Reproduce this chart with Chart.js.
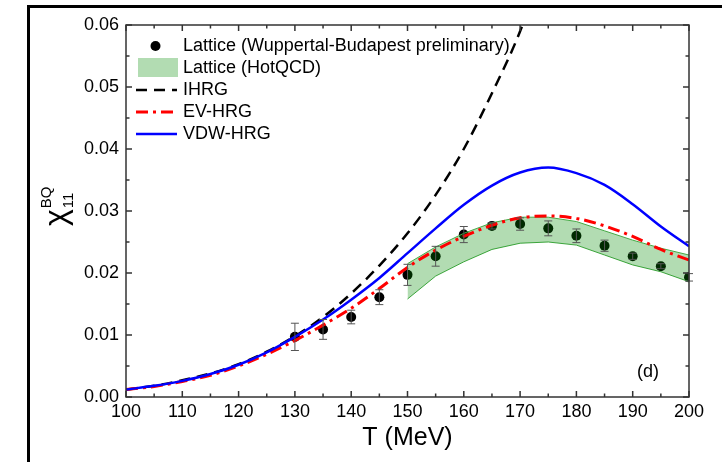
<!DOCTYPE html>
<html>
<head>
<meta charset="utf-8">
<script src="https://cdn.jsdelivr.net/npm/chart.js@4.4.1/dist/chart.umd.min.js"></script>
<style>
  body { margin: 0; background: #fff; }
</style>
</head>
<body>
<canvas id="myChart" width="722" height="462"></canvas>
<script>
const FONT = "'Liberation Sans', Arial, sans-serif";

// model curves, every 5 MeV
const temps = [100, 105, 110, 115, 120, 125, 130, 135, 140, 145, 150, 155, 160, 165, 170, 175, 180, 185, 190, 195, 200];
const ihrg = [0.0012, 0.0018, 0.0027, 0.0038, 0.0053, 0.0073, 0.0098, 0.0129, 0.0167, 0.0212, 0.0264, 0.0326, 0.0400, 0.0490, 0.0590, 0.0720];
const evHrg = [0.0012, 0.0017, 0.0025, 0.0035, 0.0050, 0.0069, 0.0091, 0.0116, 0.0143, 0.0175, 0.0209, 0.0237, 0.0259, 0.0277, 0.0289, 0.0292, 0.0288, 0.0276, 0.0259, 0.0238, 0.0221];
const vdwHrg = [0.0012, 0.0018, 0.0026, 0.0037, 0.0052, 0.0072, 0.0097, 0.0125, 0.0157, 0.0192, 0.0232, 0.0272, 0.0310, 0.0341, 0.0362, 0.0370, 0.0361, 0.0342, 0.0311, 0.0275, 0.0243];

// lattice Wuppertal-Budapest points
const wbT = [130, 135, 140, 145, 150, 155, 160, 165, 170, 175, 180, 185, 190, 195, 200];
const wbVal = [0.0097, 0.0109, 0.0129, 0.0161, 0.0197, 0.0227, 0.0262, 0.0276, 0.0279, 0.0272, 0.0260, 0.0244, 0.0227, 0.0211, 0.0193];
const wbErr = [0.0022, 0.0016, 0.0011, 0.0012, 0.0017, 0.0016, 0.0013, 0.0005, 0.0010, 0.0012, 0.0011, 0.0009, 0.0005, 0.0004, 0.0006];

// HotQCD band
const hotT = [150, 155, 160, 165, 170, 175, 180, 185, 190, 195, 200];
const hotHi = [0.0215, 0.0242, 0.0264, 0.0281, 0.0290, 0.0290, 0.0283, 0.0268, 0.0253, 0.0240, 0.0229];
const hotLo = [0.0158, 0.0195, 0.0218, 0.0238, 0.0248, 0.0250, 0.0245, 0.0229, 0.0213, 0.0202, 0.0186];

const legendLabels = ['Lattice (Wuppertal-Budapest preliminary)', 'Lattice (HotQCD)', 'IHRG', 'EV-HRG', 'VDW-HRG'];
const xTicks = { min: 100, max: 200, major: 10, minor: 5 };
const yTicks = { min: 0, max: 0.06, major: 0.01, minor: 0.005 };

const pts = (xs, ys) => ys.map((v, i) => ({ x: xs[i], y: v }));

const bandFill = 'rgba(0,140,0,0.3)';
const bandLine = 'rgb(70,170,70)';

// white page + black screenshot edge
const pageFrame = {
    id: 'pageFrame',
    beforeDraw(chart) {
        const ctx = chart.ctx;
        ctx.save();
        ctx.fillStyle = '#fff';
        ctx.fillRect(0, 0, chart.width, chart.height);
        ctx.fillStyle = '#000';
        ctx.fillRect(27, 5, chart.width - 27, 3);
        ctx.fillRect(27, 5, 3, chart.height - 5);
        ctx.restore();
    }
};

// error bars on the lattice points
const errorBars = {
    id: 'errorBars',
    afterDatasetsDraw(chart) {
        const { ctx, scales: { x, y } } = chart;
        ctx.save();
        ctx.strokeStyle = '#555';
        ctx.lineWidth = 1;
        ctx.beginPath();
        wbT.forEach((t, i) => {
            const px = x.getPixelForValue(t);
            const top = y.getPixelForValue(wbVal[i] + wbErr[i]);
            const bot = y.getPixelForValue(wbVal[i] - wbErr[i]);
            ctx.moveTo(px, top); ctx.lineTo(px, bot);
            ctx.moveTo(px - 4, top); ctx.lineTo(px + 4, top);
            ctx.moveTo(px - 4, bot); ctx.lineTo(px + 4, bot);
        });
        ctx.stroke();
        ctx.restore();
    }
};

// closed box with inward ticks on all four sides
const boxTicks = {
    id: 'boxTicks',
    afterDraw(chart) {
        const { ctx, chartArea: a, scales: { x, y } } = chart;
        ctx.save();
        ctx.strokeStyle = '#333';
        ctx.lineWidth = 1.5;
        ctx.beginPath();
        const nx = Math.round((xTicks.max - xTicks.min) / xTicks.minor);
        for (let i = 0; i <= nx; i++) {
            const px = x.getPixelForValue(xTicks.min + i * xTicks.minor);
            const len = i % 2 === 0 ? 6 : 3.5;
            ctx.moveTo(px, a.bottom); ctx.lineTo(px, a.bottom - len);
            ctx.moveTo(px, a.top); ctx.lineTo(px, a.top + len);
        }
        const ny = Math.round((yTicks.max - yTicks.min) / yTicks.minor);
        for (let i = 0; i <= ny; i++) {
            const py = y.getPixelForValue(yTicks.min + i * yTicks.minor);
            const len = i % 2 === 0 ? 6 : 3.5;
            ctx.moveTo(a.left, py); ctx.lineTo(a.left + len, py);
            ctx.moveTo(a.right, py); ctx.lineTo(a.right - len, py);
        }
        ctx.stroke();
        ctx.strokeRect(a.left, a.top, a.right - a.left, a.bottom - a.top);
        ctx.restore();
    }
};

// legend, y title and panel tag
const annotations = {
    id: 'annotations',
    afterDraw(chart) {
        const { ctx, chartArea: a } = chart;
        const ds = chart.data.datasets;
        ctx.save();
        ctx.font = '18px ' + FONT;
        ctx.fillStyle = '#000';
        ctx.textBaseline = 'middle';
        const x0 = a.left + 10, x1 = a.left + 51, tx = a.left + 57;
        legendLabels.forEach((label, i) => {
            const yy = a.top + 21 + i * 22;
            ctx.save();
            if (i === 0) {
                ctx.fillStyle = ds[0].pointBackgroundColor;
                ctx.beginPath();
                ctx.arc((x0 + x1) / 2 - 1, yy, 5, 0, Math.PI * 2);
                ctx.fill();
            } else if (i === 1) {
                ctx.fillStyle = bandFill;
                ctx.fillRect(x0 + 2, yy - 10, x1 - x0 - 1, 19);
            } else {
                const d = ds[i + 1];
                ctx.strokeStyle = d.borderColor;
                ctx.lineWidth = d.borderWidth;
                ctx.setLineDash(d.borderDash || []);
                ctx.beginPath();
                ctx.moveTo(x0, yy); ctx.lineTo(x1, yy);
                ctx.stroke();
            }
            ctx.restore();
            ctx.fillText(label, tx, yy);
        });

        ctx.fillText('(d)', a.right - 52, a.bottom - 25);

        // chi_11^BQ rotated
        ctx.translate(a.left - 60, (a.top + a.bottom) / 2 + 15);
        ctx.rotate(-Math.PI / 2);
        ctx.textBaseline = 'alphabetic';
        ctx.font = '32px ' + FONT;
        ctx.fillText('χ', 0, 0);
        const w = ctx.measureText('χ').width;
        ctx.font = '15px ' + FONT;
        ctx.fillText('BQ', w + 1, -15);
        ctx.fillText('11', w + 1, 7);
        ctx.restore();
    }
};

new Chart(document.getElementById('myChart'), {
    type: 'line',
    data: {
        datasets: [
            {
                label: legendLabels[0],
                data: pts(wbT, wbVal),
                showLine: false,
                pointRadius: 5,
                pointBorderWidth: 0,
                pointBackgroundColor: '#000',
                order: 5
            },
            {
                label: legendLabels[1],
                data: pts(hotT, hotHi),
                borderColor: bandLine,
                borderWidth: 1,
                backgroundColor: bandFill,
                fill: '+1',
                pointRadius: 0,
                tension: 0,
                order: 4
            },
            {
                label: 'HotQCD low',
                data: pts(hotT, hotLo),
                borderColor: bandLine,
                borderWidth: 1,
                fill: false,
                pointRadius: 0,
                tension: 0,
                order: 4
            },
            {
                label: legendLabels[2],
                data: pts(temps, ihrg),
                borderColor: '#000',
                borderWidth: 2.5,
                borderDash: [11, 7],
                pointRadius: 0,
                cubicInterpolationMode: 'monotone',
                fill: false,
                order: 2
            },
            {
                label: legendLabels[3],
                data: pts(temps, evHrg),
                borderColor: '#ff0000',
                borderWidth: 3,
                borderDash: [12, 5, 3, 5],
                pointRadius: 0,
                cubicInterpolationMode: 'monotone',
                fill: false,
                order: 1
            },
            {
                label: legendLabels[4],
                data: pts(temps, vdwHrg),
                borderColor: '#0000ff',
                borderWidth: 2.5,
                pointRadius: 0,
                cubicInterpolationMode: 'monotone',
                fill: false,
                order: 0
            }
        ]
    },
    options: {
        responsive: false,
        animation: false,
        layout: { padding: { top: 25, right: 33, left: 0, bottom: 0 } },
        plugins: {
            legend: { display: false },
            tooltip: { enabled: false }
        },
        scales: {
            x: {
                type: 'linear',
                min: xTicks.min,
                max: xTicks.max,
                ticks: {
                    stepSize: xTicks.major,
                    color: '#000',
                    font: { family: FONT, size: 18 },
                    padding: 4,
                    maxRotation: 0,
                    autoSkip: false
                },
                grid: { display: false, drawTicks: false },
                border: { display: false },
                title: {
                    display: true,
                    text: 'T (MeV)',
                    color: '#000',
                    font: { family: FONT, size: 25 },
                    padding: { top: 0, bottom: 9 }
                },
                afterFit(s) { s.height = 65; }
            },
            y: {
                type: 'linear',
                min: yTicks.min,
                max: yTicks.max,
                ticks: {
                    stepSize: yTicks.major,
                    color: '#000',
                    font: { family: FONT, size: 18 },
                    padding: 7,
                    callback: v => v.toFixed(2)
                },
                grid: { display: false, drawTicks: false },
                border: { display: false },
                afterFit(s) { s.width = 126; }
            }
        }
    },
    plugins: [pageFrame, errorBars, boxTicks, annotations]
});
</script>
</body>
</html>
